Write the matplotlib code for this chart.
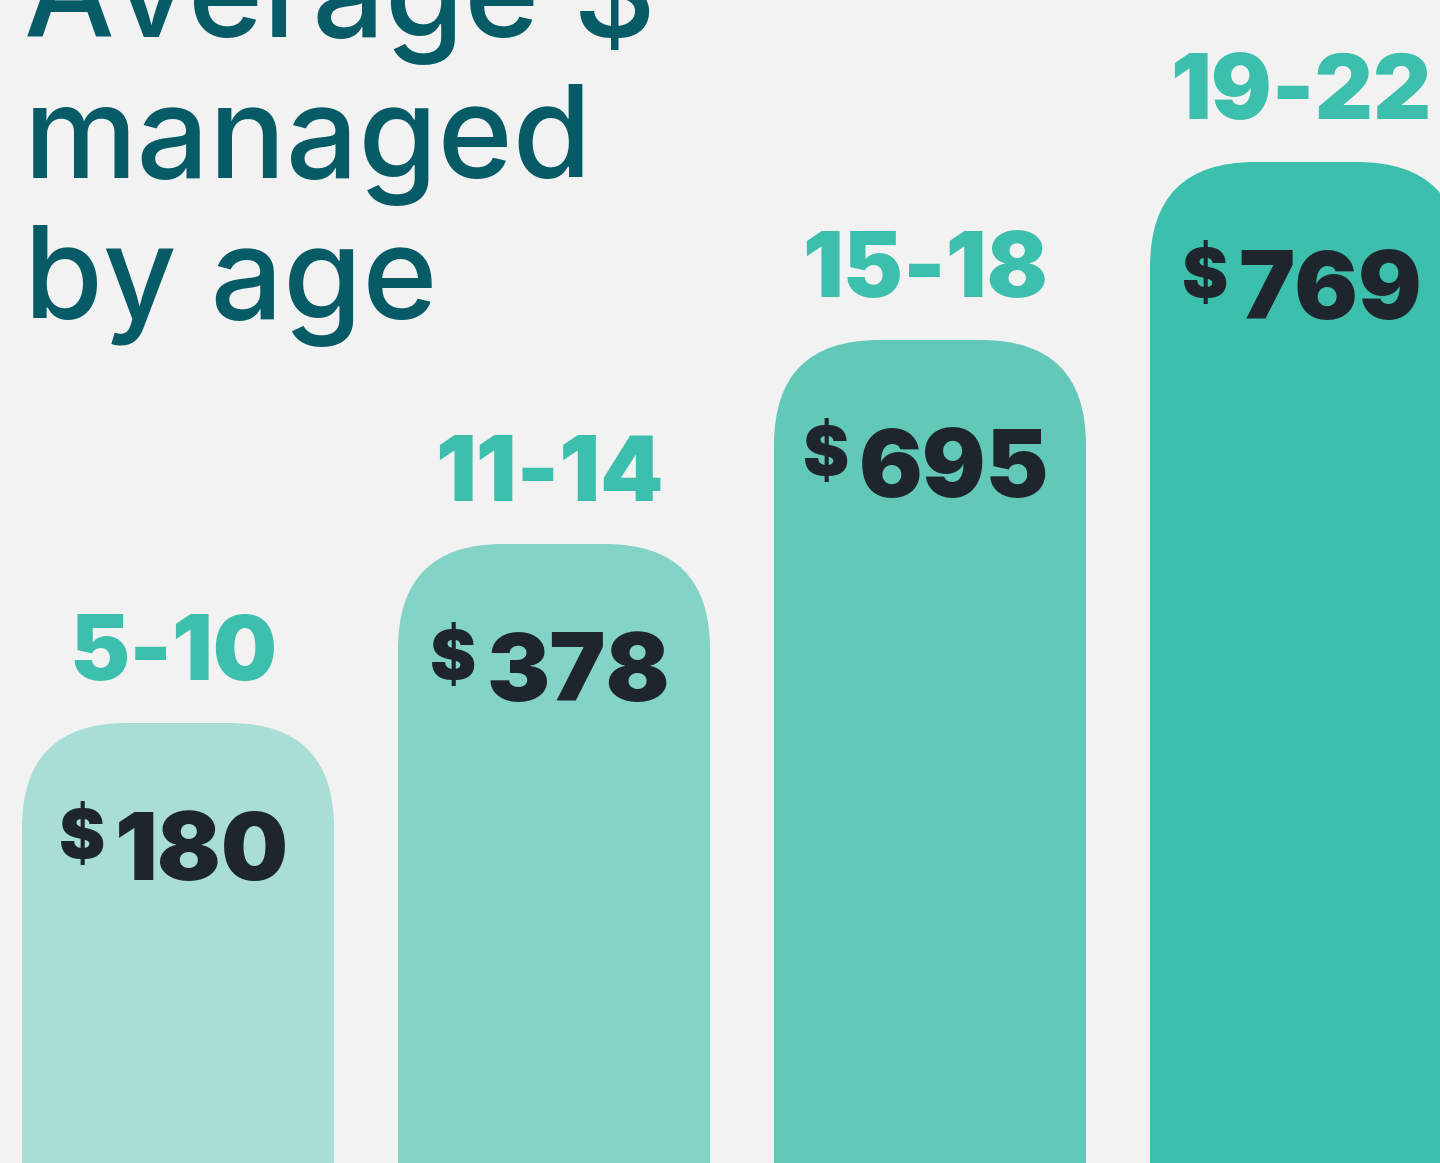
#!/usr/bin/env python3

import matplotlib
matplotlib.use("Agg")
import matplotlib.pyplot as plt
from matplotlib.patches import FancyBboxPatch

# chart data
age_groups = ["5-10", "11-14", "15-18", "19-22"]
avg_managed = [180, 378, 695, 769]
# bar heights as drawn in the picture (px from the bottom edge, not to scale)
bar_heights = [440, 619, 823, 1001]
title_lines = ["Average $", "managed", "by age"]

bar_colors = ["#a8ded6", "#84d3c7", "#62c8b8", "#3cbfac"]
bg = "#f2f2f2"
title_color = "#075b67"
age_color = "#3cbfac"
value_color = "#1e252c"
font = ["Inter", "DejaVu Sans"]

fig = plt.figure(figsize=(14.4, 11.63), dpi=100, facecolor=bg)
ax = fig.add_axes([0, 0, 1, 1])
ax.set_facecolor(bg)
ax.set_xlim(0, 1440)
ax.set_ylim(0, 1163)
ax.axis("off")

first_center = 178
step = 376
bar_w = 312
radius = 105

dollar_texts = []
number_texts = []
for i, (label, value, h) in enumerate(zip(age_groups, avg_managed, bar_heights)):
    cx = first_center + step * i
    # rounded top bar, bottom pushed below the frame
    patch = FancyBboxPatch((cx - bar_w / 2, -300), bar_w, h + 300,
                           boxstyle=f"round,pad=0,rounding_size={radius}",
                           facecolor=bar_colors[i], edgecolor="none")
    ax.add_patch(patch)

    ax.text(cx - 5, h + 43, label, ha="center", va="baseline",
            fontsize=65, fontweight="black", color=age_color, family=font)

    d = ax.text(cx, h - 136, "$", ha="left", va="baseline",
                fontsize=50, fontweight="black", color=value_color, family=font)
    n = ax.text(cx, h - 157, str(value), ha="left", va="baseline",
                fontsize=68, fontweight="black", color=value_color, family=font)
    dollar_texts.append(d)
    number_texts.append(n)

# center each "$ + number" group on its bar
fig.canvas.draw()
renderer = fig.canvas.get_renderer()
gap = 10
for i, (d, n) in enumerate(zip(dollar_texts, number_texts)):
    cx = first_center + step * i
    wd = d.get_window_extent(renderer).width
    wn = n.get_window_extent(renderer).width
    left = cx - 4 - (wd + gap + wn) / 2
    d.set_x(left)
    n.set_x(left + wd + gap)

for k, line in enumerate(title_lines):
    ax.text(24, 1163 - 37 - 141 * k, line, ha="left", va="baseline",
            fontsize=92, fontweight="medium", color=title_color, family=font)

fig.savefig("out.png", dpi=100, facecolor=bg)
